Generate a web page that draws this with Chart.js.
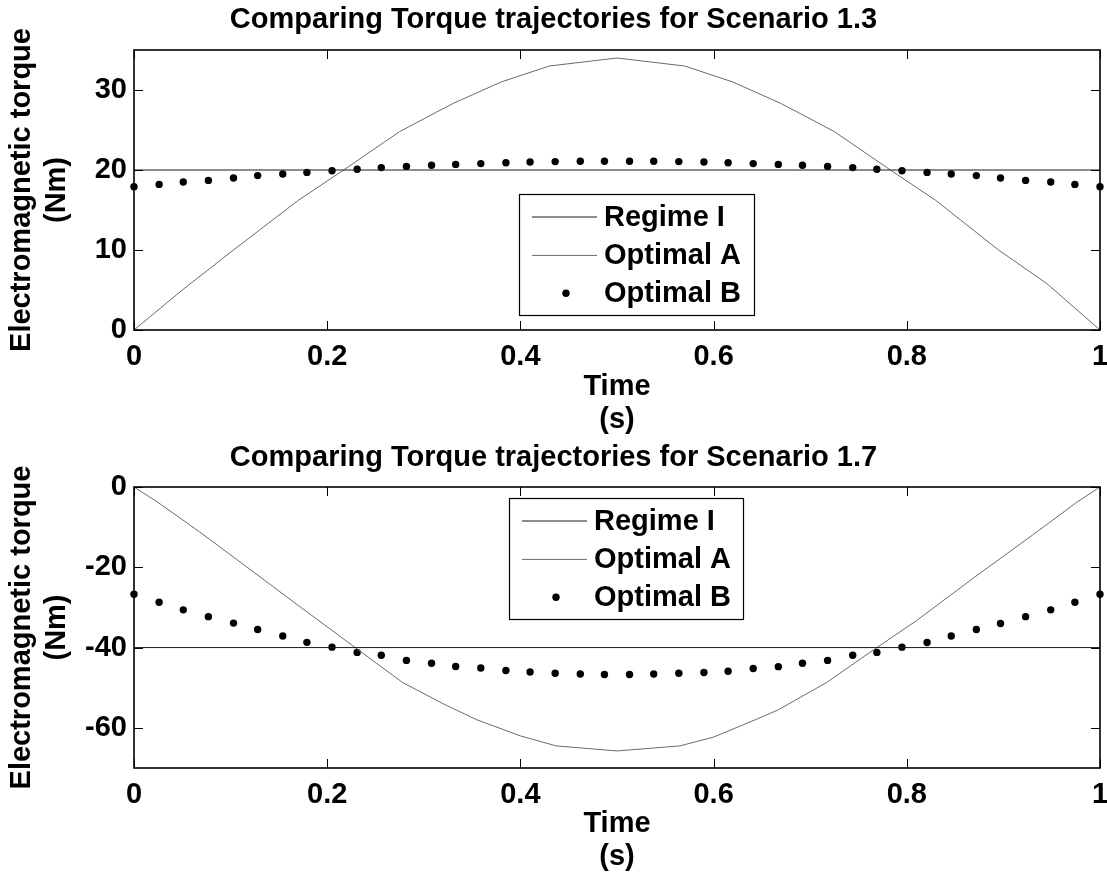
<!DOCTYPE html>
<html><head><meta charset="utf-8">
<script src="https://cdn.jsdelivr.net/npm/chart.js@4.4.1/dist/chart.umd.min.js"></script>
<style>
html,body{margin:0;padding:0;background:#fff;}
#c1{position:absolute;left:0;top:0;}
#c2{position:absolute;left:0;top:440px;}
</style></head><body>
<canvas id="c1" width="1107" height="440"></canvas>
<canvas id="c2" width="1107" height="435"></canvas>
<script>
// ---------- data ----------
const seriesLabels = ['Regime I', 'Optimal A', 'Optimal B'];
const chartTitles = ['Comparing Torque trajectories for Scenario 1.3', 'Comparing Torque trajectories for Scenario 1.7'];
const xTitle = ['Time', '(s)'];
const yTitle = ['Electromagnetic torque', '(Nm)'];
const xTicks = [0, 0.2, 0.4, 0.6, 0.8, 1];
const yTicks1 = [0, 10, 20, 30];
const yTicks2 = [-60, -40, -20, 0];

// Regime I (constant torque)
const timeRegime = [0, 1];
const regime1 = [20, 20];
const regime2 = [-40, -40];

// Optimal A (top)
const timeA1 = [0, 0.05, 0.103, 0.17, 0.217, 0.275, 0.33, 0.38, 0.43, 0.50, 0.57, 0.62, 0.67, 0.725, 0.783, 0.83, 0.895, 0.945, 1];
const torqueA1 = [0, 5.0, 10.0, 16.2, 20.0, 24.8, 28.3, 31.0, 33.0, 34.0, 33.0, 31.0, 28.3, 24.8, 20.0, 16.2, 10.0, 5.8, 0];

// Optimal A (bottom)
const timeA2 = [0, 0.024, 0.068, 0.12, 0.17, 0.229, 0.278, 0.32, 0.355, 0.40, 0.437, 0.50, 0.565, 0.60, 0.643, 0.667, 0.717, 0.769, 0.81, 0.87, 0.93, 0.976, 1];
const torqueA2 = [0, -3.7, -11.2, -20.5, -29.5, -40, -48.7, -54, -58, -62, -64.5, -65.75, -64.5, -62.3, -58, -55.5, -48.7, -40, -33.3, -22.5, -12, -3.8, 0];

// Optimal B sample times
const timeB = [0, 0.026, 0.051, 0.077, 0.103, 0.128, 0.154, 0.179, 0.205, 0.231, 0.256, 0.282, 0.308, 0.333, 0.359, 0.385, 0.410, 0.436, 0.462, 0.487,
               0.513, 0.538, 0.564, 0.590, 0.615, 0.641, 0.667, 0.692, 0.718, 0.744, 0.769, 0.795, 0.821, 0.846, 0.872, 0.897, 0.923, 0.949, 0.974, 1];
const torqueB1 = [17.9, 18.2, 18.5, 18.7, 19.0, 19.3, 19.5, 19.7, 19.9, 20.1, 20.3, 20.45, 20.6, 20.7, 20.8, 20.9, 21.0, 21.05, 21.1, 21.1,
                  21.1, 21.1, 21.05, 21.0, 20.9, 20.8, 20.7, 20.6, 20.45, 20.3, 20.1, 19.9, 19.7, 19.5, 19.3, 19.0, 18.7, 18.5, 18.2, 17.9];
const torqueB2 = [-26.7, -28.7, -30.6, -32.3, -33.9, -35.5, -37.1, -38.7, -39.9, -41.2, -41.9, -43.2, -43.9, -44.7, -45.1, -45.7, -46.1, -46.4, -46.6, -46.7,
                  -46.7, -46.6, -46.4, -46.2, -45.9, -45.2, -44.75, -43.9, -43.2, -41.9, -41.2, -39.9, -38.75, -37.1, -35.5, -34.0, -32.3, -30.6, -28.7, -26.7];

// ---------- helpers ----------
const FONT = "'Liberation Sans', Arial, sans-serif";
Chart.defaults.font.family = FONT;
Chart.defaults.color = '#000';
const pts = (xs, ys) => xs.map((x, i) => ({x: x, y: ys[i]}));

const framePlugin = {
  id: 'frame',
  afterDatasetsDraw(chart) {
    const {ctx, chartArea: a, scales: {x, y}} = chart;
    const L = 9;
    ctx.save();
    ctx.strokeStyle = '#000';
    ctx.lineWidth = 1;
    ctx.beginPath();
    x.ticks.forEach(t => {
      const px = Math.round(x.getPixelForValue(t.value)) + 0.5;
      ctx.moveTo(px, a.bottom); ctx.lineTo(px, a.bottom - L);
      ctx.moveTo(px, a.top); ctx.lineTo(px, a.top + L);
    });
    y.ticks.forEach(t => {
      const py = Math.round(y.getPixelForValue(t.value)) + 0.5;
      ctx.moveTo(a.left, py); ctx.lineTo(a.left + L, py);
      ctx.moveTo(a.right, py); ctx.lineTo(a.right - L, py);
    });
    ctx.stroke();
    ctx.lineWidth = 1.6;
    ctx.strokeRect(a.left, a.top, a.right - a.left, a.bottom - a.top);
    ctx.restore();
  },
  afterDraw(chart, args, opts) {
    const box = opts.box;
    if (!box) return;
    const ctx = chart.ctx;
    ctx.save();
    ctx.fillStyle = '#fff';
    ctx.fillRect(box.x, box.y, box.w, box.h);
    ctx.strokeStyle = '#000';
    ctx.lineWidth = 1.2;
    ctx.strokeRect(box.x + 0.5, box.y + 0.5, box.w, box.h);
    ctx.font = 'bold 29px ' + FONT;
    ctx.textBaseline = 'middle';
    ctx.textAlign = 'left';
    chart.data.datasets.forEach((ds, i) => {
      const cy = box.y + 22.5 + i * 38.4;
      if (ds.showLine === false) {
        ctx.fillStyle = ds.backgroundColor;
        ctx.beginPath();
        ctx.arc(box.x + 47, cy, ds.pointRadius, 0, Math.PI * 2);
        ctx.fill();
      } else {
        ctx.strokeStyle = ds.borderColor;
        ctx.lineWidth = ds.borderWidth;
        ctx.beginPath();
        ctx.moveTo(box.x + 13, cy + 0.5);
        ctx.lineTo(box.x + 78, cy + 0.5);
        ctx.stroke();
      }
      ctx.fillStyle = '#000';
      ctx.fillText(ds.label, box.x + 85, cy + 1);
    });
    ctx.restore();
  }
};

function makeChart(id, title, regime, tA, vA, vB, yMin, yMax, yTicks, cfg) {
  return new Chart(document.getElementById(id), {
    type: 'line',
    data: {
      datasets: [
        {label: seriesLabels[0], data: pts(timeRegime, regime), borderColor: '#1a1a1a', borderWidth: 1, pointRadius: 0, tension: 0},
        {label: seriesLabels[1], data: pts(tA, vA), borderColor: '#6a6a6a', borderWidth: 1, pointRadius: 0, tension: 0},
        {label: seriesLabels[2], data: pts(timeB, vB), showLine: false, pointRadius: 3.7, pointBackgroundColor: '#000',
         backgroundColor: '#000', borderColor: '#000', pointBorderWidth: 0, clip: false}
      ]
    },
    options: {
      responsive: false,
      animation: false,
      events: [],
      layout: {padding: {left: 0, right: 0, top: 0, bottom: 0}},
      plugins: {
        legend: {display: false},
        tooltip: {enabled: false},
        title: {display: true, text: title, font: {size: 29, weight: 'bold'}, lineHeight: 1.2,
                padding: {top: cfg.titleTop, bottom: cfg.titleBottom}, color: '#000'},
        frame: {box: cfg.box}
      },
      scales: {
        x: {
          type: 'linear', min: 0, max: 1,
          grid: {display: false, drawTicks: false}, border: {display: false},
          afterBuildTicks: s => { s.ticks = xTicks.map(v => ({value: v})); },
          afterFit: s => { s.height = cfg.xHeight; s.paddingRight = 7; s.paddingLeft = 0; },
          ticks: {padding: 10, font: {size: 29, weight: 'bold'}, color: '#000', callback: v => String(v), maxRotation: 0, autoSkip: false},
          title: {display: true, text: xTitle, font: {size: 29, weight: 'bold', lineHeight: 1.15}, color: '#000',
                  padding: {top: 0, bottom: cfg.xTitleBottom}}
        },
        y: {
          type: 'linear', min: yMin, max: yMax,
          grid: {display: false, drawTicks: false}, border: {display: false},
          afterBuildTicks: s => { s.ticks = yTicks.map(v => ({value: v})); },
          afterFit: s => { s.width = 134; s.paddingTop = 0; s.paddingBottom = 0; },
          ticks: {padding: 7, font: {size: 29, weight: 'bold'}, color: '#000', callback: v => String(v)},
          title: {display: true, text: yTitle, font: {size: 29, weight: 'bold', lineHeight: 1.2}, color: '#000',
                  padding: {top: 5, bottom: 0}}
        }
      }
    },
    plugins: [framePlugin]
  });
}

makeChart('c1', chartTitles[0], regime1, timeA1, torqueA1, torqueB1, 0, 35, yTicks1,
  {titleTop: 2.6, titleBottom: 12.6, xHeight: 110, xTitleBottom: 3.3, box: {x: 519, y: 194, w: 235, h: 121}});
makeChart('c2', chartTitles[1], regime2, timeA2, torqueA2, torqueB2, -70, 0, yTicks2,
  {titleTop: 0.6, titleBottom: 11.6, xHeight: 107, xTitleBottom: 1.3, box: {x: 509, y: 58, w: 234, h: 121}});
</script>
</body></html>
